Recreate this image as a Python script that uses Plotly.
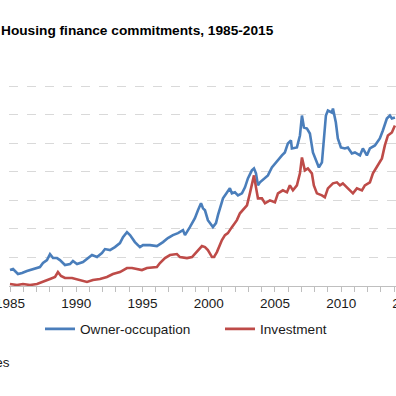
import plotly.graph_objects as go

# ---- data (units: $ billion per month, approx.) ----
owner_year = [1985.00, 1985.23, 1985.60, 1985.91, 1986.28, 1986.74, 1987.11, 1987.26, 1987.49, 1987.79,
              1988.02, 1988.25, 1988.55, 1988.77, 1989.15, 1989.53, 1989.75, 1990.06, 1990.51, 1990.89,
              1991.19, 1991.57, 1991.94, 1992.17, 1992.55, 1992.92, 1993.30, 1993.53, 1993.83, 1994.06,
              1994.28, 1994.43, 1994.81, 1995.04, 1995.57, 1996.09, 1996.55, 1996.92, 1997.30, 1997.68,
              1998.06, 1998.21, 1998.58, 1998.96, 1999.19, 1999.42, 1999.57, 1999.72, 1999.94, 2000.32,
              2000.55, 2000.70, 2001.08, 2001.38, 2001.60, 2001.75, 2001.98, 2002.21, 2002.51, 2002.74,
              2002.96, 2003.26, 2003.42, 2003.57, 2003.72, 2003.87, 2004.25, 2004.47, 2004.77, 2005.00,
              2005.23, 2005.53, 2005.75, 2005.98, 2006.21, 2006.28, 2006.66, 2006.89, 2007.04, 2007.19,
              2007.42, 2007.64, 2007.87, 2008.17, 2008.32, 2008.55, 2008.70, 2008.85, 2009.00, 2009.30,
              2009.38, 2009.60, 2009.75, 2009.98, 2010.28, 2010.51, 2010.81, 2011.04, 2011.42, 2011.64,
              2011.94, 2012.17, 2012.55, 2012.92, 2013.15, 2013.45, 2013.68, 2013.83, 2014.06]
owner_value = [1.12, 1.19, 0.84, 0.91, 1.05, 1.19, 1.26, 1.33, 1.61, 1.82,
               2.24, 1.96, 1.96, 1.82, 1.47, 1.54, 1.75, 1.54, 1.68, 1.96,
               2.17, 2.03, 2.31, 2.59, 2.52, 2.73, 3.01, 3.43, 3.78, 3.57,
               3.22, 3.08, 2.73, 2.87, 2.87, 2.80, 3.08, 3.36, 3.57, 3.71,
               3.92, 3.57, 4.13, 4.76, 5.31, 5.80, 5.45, 5.31, 4.62, 4.13,
               4.41, 4.97, 6.15, 6.57, 6.85, 6.50, 6.57, 6.36, 6.50, 6.92,
               7.55, 8.11, 8.25, 7.90, 7.06, 7.27, 7.62, 7.76, 8.32, 8.60,
               8.81, 9.16, 9.37, 10.00, 10.21, 9.65, 9.72, 10.56, 11.96, 11.12,
               11.05, 10.70, 9.37, 8.60, 8.32, 8.67, 10.07, 11.96, 12.31, 12.17,
               12.45, 11.47, 10.35, 9.72, 9.65, 9.72, 9.30, 9.37, 9.16, 9.65,
               9.16, 9.65, 9.86, 10.35, 10.91, 11.75, 11.96, 11.75, 11.82]

invest_year = [1985.00, 1985.53, 1985.98, 1986.51, 1987.04, 1987.49, 1988.02, 1988.40, 1988.62, 1988.85,
               1989.15, 1989.68, 1990.28, 1990.81, 1991.26, 1991.79, 1992.32, 1992.77, 1993.30, 1993.83,
               1994.21, 1994.58, 1994.96, 1995.34, 1996.09, 1996.32, 1996.70, 1997.08, 1997.60, 1997.83,
               1998.36, 1998.74, 1999.11, 1999.49, 1999.72, 1999.94, 2000.25, 2000.40, 2000.62, 2001.00,
               2001.23, 2001.45, 2001.75, 2002.13, 2002.36, 2002.58, 2002.89, 2003.11, 2003.34, 2003.42,
               2003.57, 2003.72, 2004.02, 2004.25, 2004.62, 2005.00, 2005.23, 2005.60, 2005.91, 2006.13,
               2006.36, 2006.66, 2006.89, 2007.04, 2007.26, 2007.49, 2007.79, 2007.94, 2008.17, 2008.55,
               2008.77, 2009.00, 2009.38, 2009.68, 2009.91, 2010.13, 2010.51, 2010.89, 2011.19, 2011.57,
               2011.79, 2012.17, 2012.40, 2012.77, 2013.08, 2013.30, 2013.53, 2013.83, 2014.06]
invest_value = [0.14, 0.07, 0.14, 0.07, 0.14, 0.28, 0.49, 0.63, 0.98, 0.70,
                0.56, 0.56, 0.42, 0.28, 0.42, 0.49, 0.63, 0.84, 0.98, 1.26,
                1.26, 1.19, 1.12, 1.26, 1.33, 1.61, 1.96, 2.17, 2.24, 2.03,
                1.96, 2.03, 2.38, 2.80, 2.73, 2.52, 2.03, 2.03, 2.38, 3.22,
                3.57, 3.71, 4.13, 4.62, 5.10, 5.31, 5.66, 6.50, 7.41, 7.76,
                6.92, 6.15, 6.15, 5.80, 6.01, 5.87, 6.50, 6.71, 6.57, 7.06,
                6.71, 7.06, 7.90, 9.02, 8.11, 8.25, 7.90, 7.06, 6.50, 6.36,
                6.22, 6.85, 7.20, 7.27, 7.06, 7.20, 6.85, 6.50, 6.85, 6.71,
                7.06, 7.27, 7.90, 8.46, 8.95, 9.86, 10.56, 10.77, 11.26]

tick_years = [1985, 1990, 1995, 2000, 2005, 2010, 2015]
tick_labels = ["1985", "1990", "1995", "2000", "2005", "2010", "2015"]
series_names = ["Owner-occupation", "Investment"]
title_text = "Housing finance commitments, 1985-2015"
source_text = "Sources"

FONT = "Liberation Sans, Arial, sans-serif"
TXT = "#1a1a1a"

W, H = 440, 396
L, R, T, B = 9, 26, 85, 110
plot_w = W - L - R
plot_h = H - T - B

fig = go.Figure()
fig.add_trace(go.Scatter(x=owner_year, y=owner_value, mode="lines", name=series_names[0],
                         line=dict(color="#4a7ebb", width=2.6)))
fig.add_trace(go.Scatter(x=invest_year, y=invest_value, mode="lines", name=series_names[1],
                         line=dict(color="#be4b48", width=2.6)))

fig.update_layout(
    width=W, height=H,
    margin=dict(l=L, r=R, t=T, b=B, autoexpand=False),
    paper_bgcolor="white", plot_bgcolor="white",
    font=dict(family=FONT, size=13.5, color=TXT),
    showlegend=True,
    legend=dict(orientation="h", x=(40 - L) / plot_w, xanchor="left",
                y=(286 - 329) / plot_h, yanchor="middle",
                font=dict(family=FONT, size=13.6, color=TXT),
                entrywidth=135, entrywidthmode="pixels",
                bgcolor="rgba(0,0,0,0)", borderwidth=0),
    annotations=[
        dict(text="<b>" + title_text + "</b>", xref="paper", yref="paper",
             x=(2 - L) / plot_w, xanchor="left", xshift=-3,
             y=(286 - 31) / plot_h, yanchor="middle",
             showarrow=False, font=dict(family=FONT, size=13.7, color="#000")),
        dict(text=source_text, xref="paper", yref="paper",
             x=0, xanchor="right", xshift=3,
             y=(286 - 362) / plot_h, yanchor="middle", showarrow=False,
             font=dict(family=FONT, size=13.5, color=TXT)),
    ],
)

fig.update_xaxes(range=[1985 - 1 / 13.25, 2015.5], tickmode="array", tickvals=tick_years,
                 ticktext=tick_labels, ticks="outside", ticklen=5, tickcolor="#bfbfbf",
                 showline=True, linecolor="#bfbfbf", linewidth=1, showgrid=False,
                 zeroline=False, automargin=False, ticklabeloverflow="allow",
                 minor=dict(dtick=1, tick0=1985, ticks="outside", ticklen=5,
                            tickcolor="#bfbfbf", showgrid=False),
                 tickfont=dict(family=FONT, size=13.5, color=TXT))
fig.update_yaxes(range=[0, 14.1], dtick=2, showticklabels=False, showgrid=True,
                 gridcolor="#d9d9d9", griddash="dash", gridwidth=1, zeroline=False,
                 showline=False, automargin=False)

fig.write_html("out.html", config={"displayModeBar": False, "staticPlot": True},
               post_script="document.body.style.margin='0';document.body.style.overflow='hidden';"
                           "document.documentElement.style.overflow='hidden';")
